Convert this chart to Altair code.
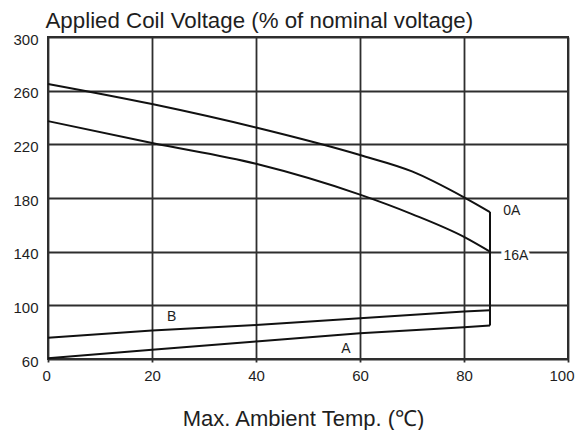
import altair as alt
import pandas as pd

# ---- data ----
x_ticks = [0, 20, 40, 60, 80, 100]
y_grid = [60, 80, 100, 120, 140, 160, 180, 200, 220, 240, 260, 280, 300]
y_labels = [60, 100, 140, 180, 220, 260, 300]

a0_x = [0, 20, 40, 60, 70, 80, 85]
a0_y = [265, 250, 232.5, 212, 199.8, 180.5, 169.5]

a16_x = [0, 20, 40, 60, 70, 80, 85]
a16_y = [237.3, 221, 205.5, 182.5, 168, 151, 140]

b_x = [0, 20, 40, 60, 80, 85]
b_y = [75.8, 81.3, 85.3, 90.3, 95.4, 96.3]

a_x = [0, 20, 40, 60, 80, 85]
a_y = [60.6, 66.9, 73.1, 79.2, 83.7, 84.9]

edge_x = [85, 85]
edge_y = [169.5, 84.9]

label_text = ["0A", "16A", "B", "A"]
label_x = [89.2, 90.0, 23.8, 57.3]
label_y = [170, 137, 91, 67.5]
halo_labels = ["16A"]

# ---- build tables ----
rows = []
for name, xs, ys in [("0A", a0_x, a0_y), ("16A", a16_x, a16_y)]:
    for i, (xv, yv) in enumerate(zip(xs, ys)):
        rows.append({"series": name, "x": xv, "y": yv, "order": i})
curves = pd.DataFrame(rows)

rows = []
for name, xs, ys in [("B", b_x, b_y), ("A", a_x, a_y), ("edge", edge_x, edge_y)]:
    for i, (xv, yv) in enumerate(zip(xs, ys)):
        rows.append({"series": name, "x": xv, "y": yv, "order": i})
straight = pd.DataFrame(rows)

labels = pd.DataFrame({"text": label_text, "x": label_x, "y": label_y})
halo_df = labels[labels["text"].isin(halo_labels)]

FONT = "Liberation Sans"
INK = "#1e1e1e"
GRID = "#2e2e2e"

label_list = ",".join(str(v) for v in y_labels)

x_enc = alt.X(
    "x:Q",
    scale=alt.Scale(domain=[0, 100], nice=False, zero=False),
    axis=alt.Axis(
        values=x_ticks,
        title="Max. Ambient Temp. (℃)",
        grid=True, gridColor=GRID, gridWidth=1.8, gridOpacity=1,
        domain=False,
        tickSize=3, tickColor=GRID, tickWidth=1.8,
        labelFont=FONT, labelFontSize=15, labelColor=INK, labelPadding=6,
        labelFlush=True, labelFlushOffset=6, labelOverlap=False,
        titleFont=FONT, titleFontSize=22, titleFontWeight="normal", titleColor=INK,
        titleX=255, titleY=66, titleBaseline="alphabetic", titleAlign="center",
    ),
)

y_enc = alt.Y(
    "y:Q",
    scale=alt.Scale(domain=[60, 300], nice=False, zero=False),
    axis=alt.Axis(
        values=y_grid,
        labelExpr=f"indexof([{label_list}], datum.value) >= 0 ? datum.label : ''",
        title="Applied Coil Voltage (% of nominal voltage)",
        grid=True, gridColor=GRID, gridWidth=1.8, gridOpacity=1,
        domain=False, ticks=False, tickSize=0,
        labelFont=FONT, labelFontSize=15, labelColor=INK, labelPadding=10,
        labelOffset=2, labelFlush=False, labelOverlap=False,
        titleFont=FONT, titleFontSize=22.3, titleFontWeight="normal", titleColor=INK,
        titleAngle=0, titleAlign="left", titleBaseline="alphabetic",
        titleX=-3, titleY=-10,
    ),
)

curve_layer = alt.Chart(curves).mark_line(
    color="#111111", strokeWidth=2, interpolate="monotone"
).encode(x=x_enc, y=y_enc, detail="series:N", order="order:Q")

straight_layer = alt.Chart(straight).mark_line(
    color="#111111", strokeWidth=2
).encode(x="x:Q", y="y:Q", detail="series:N", order="order:Q")

halo = alt.Chart(halo_df).mark_text(
    font=FONT, fontSize=14, color="white", stroke="white", strokeWidth=7
).encode(x="x:Q", y="y:Q", text="text:N")

text_layer = alt.Chart(labels).mark_text(
    font=FONT, fontSize=14, color=INK
).encode(x="x:Q", y="y:Q", text="text:N")

chart = alt.layer(curve_layer, straight_layer, halo, text_layer).properties(
    width=520,
    height=322,
    autosize=alt.AutoSizeParams(type="none"),
    padding={"left": 40, "top": 29, "right": 7, "bottom": 71},
    background="white",
).configure_view(stroke=GRID, strokeWidth=2)

chart.save("out.html", embed_options={"renderer": "svg", "actions": False})
